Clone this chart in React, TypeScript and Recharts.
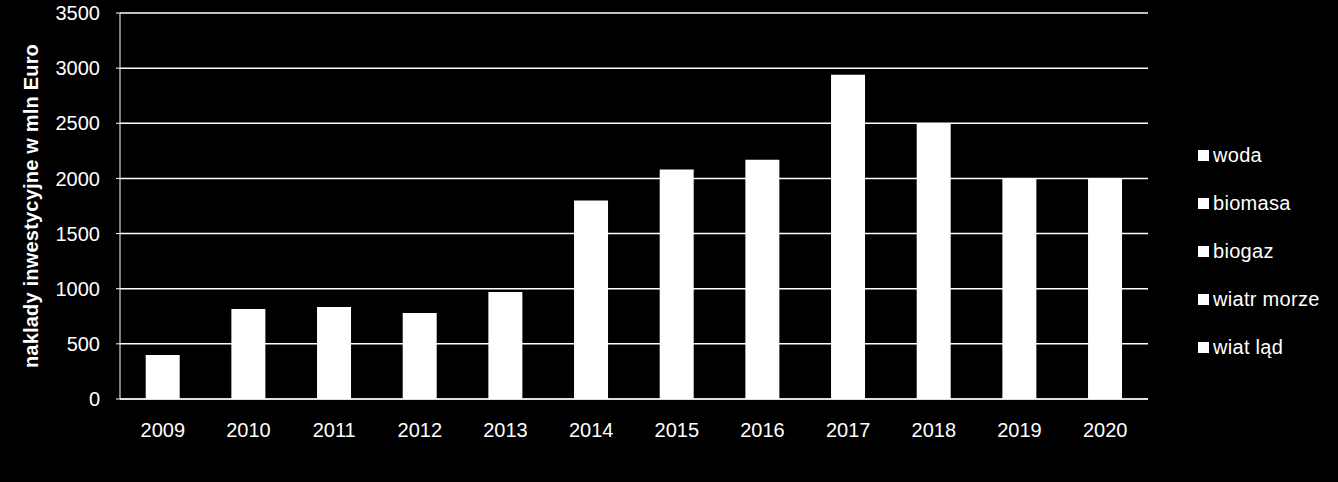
import { BarChart, Bar, XAxis, YAxis, CartesianGrid } from 'recharts';

// lata i łączne nakłady (mln Euro)
const years = ['2009', '2010', '2011', '2012', '2013', '2014', '2015', '2016', '2017', '2018', '2019', '2020'];
const totals = [400, 815, 835, 780, 970, 1800, 2080, 2170, 2940, 2500, 2000, 2000];
const seriesNames = ['woda', 'biomasa', 'biogaz', 'wiatr morze', 'wiat ląd'];
const yTicks = [0, 500, 1000, 1500, 2000, 2500, 3000, 3500];

const FONT = '"Liberation Sans", Arial, sans-serif';

const chartData = years.map((year, i) => ({ year, total: totals[i] }));

function YLabel(props: any) {
  const vb = props.viewBox || {};
  const x = 31;
  const y = (vb.y ?? 0) + (vb.height ?? 0) / 2;
  return (
    <text
      x={x}
      y={y}
      transform={`rotate(-90, ${x}, ${y})`}
      textAnchor="middle"
      dominantBaseline="central"
      fill="#fff"
      fontFamily={FONT}
      fontSize={20}
      fontWeight="bold"
      letterSpacing={0.2}
    >
      naklady inwestycyjne w mln Euro
    </text>
  );
}

function LegendList() {
  return (
    <div
      style={{
        position: 'absolute',
        left: 1198,
        top: 131,
        fontFamily: FONT,
        fontSize: 20,
        color: '#fff',
      }}
    >
      {seriesNames.map((name) => (
        <div key={name} style={{ display: 'flex', alignItems: 'center', height: 48 }}>
          <span style={{ display: 'inline-block', width: 11, height: 11, background: '#fff', marginRight: 4 }} />
          <span style={{ letterSpacing: 0.3, whiteSpace: 'nowrap' }}>{name}</span>
        </div>
      ))}
    </div>
  );
}

export default function App() {
  return (
    <div style={{ position: 'absolute', left: 0, top: 0, width: 1338, height: 482, background: '#000' }}>
      <BarChart
        width={1338}
        height={482}
        data={chartData}
        margin={{ top: 13, right: 190, bottom: 0, left: 0 }}
        barCategoryGap="30%"
      >
        <CartesianGrid vertical={false} stroke="#fff" strokeWidth={1.5} />
        <XAxis
          dataKey="year"
          height={83}
          axisLine={{ stroke: '#fff' }}
          tickLine={false}
          tickSize={0}
          tickMargin={24}
          tick={{ fill: '#fff', fontSize: 20, fontFamily: FONT }}
        />
        <YAxis
          width={120}
          domain={[0, 3500]}
          ticks={yTicks}
          interval={0}
          axisLine={{ stroke: '#fff' }}
          tickLine={{ stroke: '#fff' }}
          tickSize={4}
          tickMargin={16}
          tick={{ fill: '#fff', fontSize: 20, fontFamily: FONT }}
          label={<YLabel />}
        />
        <Bar dataKey="total" fill="#fff" isAnimationActive={false} />
      </BarChart>
      <LegendList />
    </div>
  );
}
